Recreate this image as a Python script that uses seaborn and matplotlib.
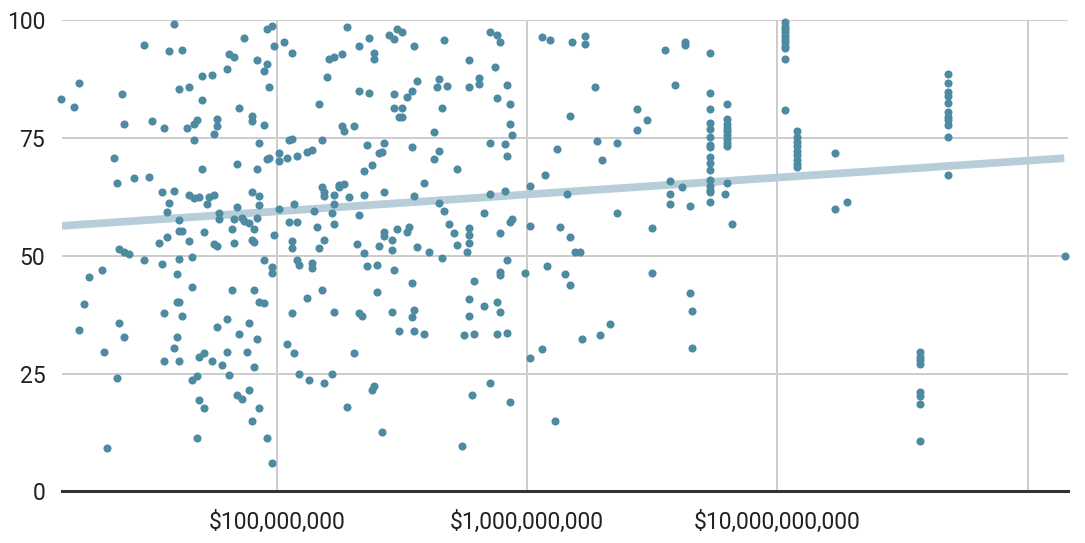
import numpy as np
import pandas as pd
import seaborn as sns
import matplotlib.pyplot as plt
from matplotlib.ticker import FixedLocator, NullLocator, FixedFormatter

# budget (log10 of dollars) and score
budget_log10 = [
    7.59, 7.47, 7.57, 7.62, 7.81, 7.83, 7.80, 7.70, 7.74, 7.21, 7.14, 7.19, 7.38, 7.61, 7.65, 7.70,
    7.39, 7.50, 7.55, 7.64, 7.68, 7.67, 7.76, 7.76, 7.75, 7.67, 7.35, 7.36, 7.43, 7.49, 7.70, 7.54,
    7.59, 7.57, 7.65, 7.67, 7.69, 7.73, 7.75, 7.72, 7.56, 7.61, 7.77, 7.77, 7.61, 7.62, 7.71, 7.56,
    7.53, 7.65, 7.75, 7.76, 7.37, 7.39, 7.41, 7.47, 7.54, 7.61, 7.66, 7.30, 7.25, 7.60, 7.66, 7.23,
    7.60, 7.61, 7.55, 7.62, 7.37, 7.21, 7.39, 7.60, 7.59, 7.31, 7.55, 7.61, 7.69, 7.71, 7.74, 7.80,
    7.78, 7.76, 7.80, 7.81, 7.36, 7.66, 7.68, 7.69, 7.71, 7.32, 7.68,
    7.84, 7.84, 7.83, 7.82, 7.83, 7.82, 7.84, 7.86, 7.89,
    7.98, 7.96, 7.87, 7.99, 8.03, 8.06, 7.92, 7.96, 7.95, 7.97, 7.85, 7.90, 7.90, 7.95, 8.28, 8.21,
    8.23, 8.26, 8.20, 8.33, 8.37, 8.39, 8.39, 8.45, 8.47, 8.48, 8.17, 8.33, 8.37, 8.47, 8.47, 8.49,
    8.26, 8.27, 8.31, 7.93, 8.05, 8.06, 8.18, 7.92, 7.96, 7.97, 8.01, 8.01, 8.04, 8.08, 8.12, 8.14,
    8.36, 8.41, 8.42, 8.43, 8.35, 8.38, 7.90, 7.93, 7.93, 8.18, 8.19, 8.19, 8.23, 8.25, 8.25, 8.27,
    8.29, 8.35, 8.43, 8.23, 8.07, 8.01, 8.15, 8.22, 8.33, 7.86, 7.87, 7.89, 7.92, 7.91, 8.05, 8.08,
    8.23, 8.16, 7.99, 7.90, 7.91, 8.06, 8.06, 8.19, 8.17, 8.32, 8.35, 8.41, 8.43, 8.43, 8.46, 8.46,
    8.48, 7.95, 7.98, 7.98, 8.08, 8.09, 8.14, 8.14, 8.36, 8.40, 8.47, 7.91, 7.93, 7.95, 8.18, 8.12,
    8.40, 8.06, 8.23, 8.33, 8.34, 8.46, 8.49, 7.89, 7.85, 7.92, 7.88, 7.91, 8.04, 8.07, 8.31, 8.09,
    8.13, 8.19, 8.22, 8.38, 8.39, 7.93, 7.90, 7.96, 7.98, 8.28, 8.42,
    8.50, 8.55, 8.67, 8.85, 8.88, 8.89, 8.77, 8.87, 8.56, 8.65, 8.64, 8.68, 8.77, 8.81, 8.81, 8.92,
    8.54, 8.52, 8.50, 8.50, 8.66, 8.88, 8.93, 8.93, 8.94, 8.63, 8.54, 8.65, 8.63, 8.85, 8.91, 8.92,
    8.72, 8.59, 8.55, 8.65, 8.67, 8.85, 8.91, 8.83, 9.01, 8.52, 8.53, 8.69, 8.71, 8.77, 8.77, 8.77,
    8.72, 8.76, 8.89, 8.93, 8.94, 9.01, 8.56, 8.61, 8.66, 8.92, 8.54, 8.79, 8.89, 8.89, 8.99, 8.77,
    8.83, 8.88, 8.89, 8.77, 8.55, 8.54, 8.55, 8.59, 8.75, 8.79, 8.88, 8.92, 9.01, 8.78, 8.85, 8.93,
    8.74,
    9.06, 9.09, 9.12, 9.07, 9.13, 9.08, 9.15, 9.06, 9.11,
    9.18, 9.23, 9.23, 9.27, 9.17, 9.28, 9.36, 9.30, 9.44, 9.48, 9.44, 9.55, 9.59, 9.63, 9.63, 9.73,
    9.16, 9.17, 9.19, 9.21, 9.36, 9.50, 9.57, 9.57, 9.57, 9.62, 9.65, 9.17, 9.50, 9.22, 9.29, 9.33,
    9.65, 9.66, 9.66, 9.79, 9.82, 10.23, 10.23, 10.28, 11.15,
]
score = [
    99.2, 94.7, 93.5, 93.6, 92.9, 92.2, 89.6, 88.1, 88.3, 86.7, 83.3, 81.6, 84.4, 85.4, 85.9, 83.0,
    77.9, 78.6, 77.1, 77.0, 78.9, 77.9, 79.1, 77.5, 75.8, 74.6, 70.8, 65.5, 66.6, 66.7, 68.5, 63.6,
    63.8, 61.1, 62.9, 62.2, 62.5, 62.4, 62.8, 61.0, 59.2, 57.5, 59.0, 57.9, 55.3, 55.3, 55.1, 53.9,
    52.7, 53.1, 52.4, 52.0, 51.5, 50.7, 50.3, 49.0, 48.3, 49.3, 49.8, 46.9, 45.4, 46.1, 43.3, 39.8,
    40.1, 40.1, 37.9, 37.3, 35.7, 34.3, 32.7, 32.8, 30.4, 29.5, 27.6, 27.6, 28.5, 29.4, 27.7, 29.6,
    26.9, 34.9, 36.5, 24.6, 24.0, 23.6, 24.5, 19.5, 17.7, 9.3, 11.3,
    69.4, 60.3, 57.8, 55.6, 52.6, 42.8, 20.5, 19.6, 21.6,
    98.7, 98.1, 96.3, 94.6, 95.3, 93.0, 91.6, 90.7, 89.3, 85.9, 81.3, 79.6, 78.5, 77.7, 98.6, 91.7,
    92.1, 92.7, 87.9, 94.6, 96.1, 93.1, 91.7, 96.8, 96.0, 98.2, 82.2, 85.0, 84.6, 84.3, 81.4, 79.5,
    77.6, 76.5, 77.6, 74.0, 74.6, 74.7, 74.6, 68.4, 70.5, 70.8, 71.9, 70.2, 70.7, 71.1, 72.0, 72.5,
    73.4, 71.7, 72.0, 74.0, 68.0, 69.2, 63.5, 62.7, 60.8, 64.6, 63.6, 62.7, 62.9, 64.5, 65.0, 65.3,
    62.5, 62.8, 63.5, 61.0, 60.9, 59.9, 59.5, 59.0, 58.7, 58.0, 57.3, 56.9, 58.0, 55.6, 57.2, 57.1,
    56.8, 56.2, 54.4, 53.4, 52.9, 53.1, 51.7, 53.4, 51.6, 52.5, 50.5, 52.1, 54.1, 55.1, 53.4, 51.2,
    55.6, 49.1, 47.6, 46.4, 49.1, 48.1, 48.4, 47.4, 47.9, 48.0, 47.0, 42.8, 40.1, 39.9, 42.8, 41.1,
    42.4, 37.9, 38.0, 37.8, 37.2, 38.0, 34.0, 35.8, 33.4, 32.3, 29.5, 26.4, 31.2, 29.3, 29.3, 24.9,
    23.7, 23.0, 25.0, 21.6, 22.3, 17.7, 15.0, 11.4, 6.1, 17.9, 12.6,
    97.5, 94.5, 95.7, 97.4, 96.8, 95.3, 91.5, 90.1, 87.1, 87.5, 85.8, 86.0, 85.8, 87.8, 86.4, 86.2,
    85.0, 83.7, 81.4, 79.4, 81.4, 83.4, 82.2, 78.0, 75.6, 76.2, 73.0, 72.2, 70.5, 73.9, 73.8, 71.2,
    68.4, 65.5, 62.6, 61.1, 59.4, 63.0, 63.7, 59.1, 64.8, 55.0, 56.0, 56.8, 54.8, 55.9, 54.4, 52.6,
    52.3, 50.7, 54.9, 57.2, 57.7, 56.4, 51.8, 50.9, 49.6, 49.1, 44.2, 44.6, 46.6, 46.0, 46.3, 40.9,
    39.3, 40.1, 38.0, 37.3, 38.5, 37.1, 34.0, 33.4, 33.1, 33.5, 33.4, 33.6, 28.3, 20.5, 23.1, 18.9,
    9.7,
    96.4, 95.8, 72.6, 67.2, 56.1, 47.8, 46.1, 30.2, 15.0,
    95.3, 96.7, 95.0, 85.9, 79.6, 74.4, 74.0, 70.3, 81.1, 78.7, 76.6, 93.6, 86.3, 95.4, 94.7, 93.1,
    63.0, 53.9, 50.8, 50.8, 59.1, 55.8, 65.8, 63.1, 61.0, 64.6, 60.6, 43.7, 46.4, 32.4, 33.1, 35.5,
    42.0, 38.2, 30.5, 63.0, 56.8, 71.9, 59.9, 61.4, 50.0,
]

# vertical stacks of repeated budgets
stack_budgets = [9.73, 9.80, 10.03, 10.08, 10.68, 10.57]
stack_scores = [
    [84.5, 81.2, 78.1, 76.9, 75.1, 73.5, 73.1, 71.0, 69.7, 68.3, 66.1, 64.9, 64.0, 63.5, 61.4],
    [82.1, 79.0, 78.0, 77.2, 76.4, 75.6, 74.8, 74.0, 73.2, 65.5],
    [99.5, 98.8, 98.1, 97.4, 96.7, 96.0, 95.3, 94.6, 94.0, 91.8, 80.9],
    [76.5, 75.3, 74.2, 73.2, 72.3, 71.4, 70.4, 69.5, 68.9],
    [88.6, 86.6, 84.8, 83.8, 82.5, 80.5, 79.5, 78.7, 77.7, 75.3, 67.1],
    [29.6, 28.6, 27.8, 27.0, 21.0, 20.2, 18.6, 10.6],
]

# trend line as shown in the chart (ends)
trend_budget_log10 = [7.13, 11.146]
trend_score = [56.3, 70.7]

tick_values = [1e8, 1e9, 1e10, 1e11]
tick_labels = ['$100,000,000', '$1,000,000,000', '$10,000,000,000', '']

logs = list(budget_log10)
ys = list(score)
for b, s in zip(stack_budgets, stack_scores):
    logs += [b] * len(s)
    ys += s
df = pd.DataFrame({'budget': 10 ** np.array(logs), 'score': ys})
trend = pd.DataFrame({'budget': 10 ** np.array(trend_budget_log10), 'score': trend_score})

sns.set_style('white')
plt.rcParams['font.family'] = ['Roboto', 'DejaVu Sans']

fig = plt.figure(figsize=(10.85, 5.43), dpi=100)
ax = fig.add_axes([0.0571, 0.095, 0.927, 0.868])

sns.lineplot(data=trend, x='budget', y='score', color='#b7ced9', linewidth=5.6,
             solid_capstyle='butt', zorder=2, ax=ax)
sns.scatterplot(data=df, x='budget', y='score', color='#4f8aa3', s=34, linewidth=0,
                ax=ax, zorder=3, clip_on=False)

ax.set_xscale('log')
ax.set_xlim(10 ** 7.142, 10 ** 11.16)
ax.set_ylim(0, 100)
ax.xaxis.set_major_locator(FixedLocator(tick_values))
ax.xaxis.set_major_formatter(FixedFormatter(tick_labels))
ax.xaxis.set_minor_locator(NullLocator())
ax.set_yticks([0, 25, 50, 75, 100])
ax.grid(True, color='#cccccc', linewidth=1.4, zorder=0)
ax.set_axisbelow(True)
ax.tick_params(axis='both', length=0, labelsize=16.5, labelcolor='#222222')
ax.tick_params(axis='x', pad=14)
ax.tick_params(axis='y', pad=12)
ax.set_xlabel('')
ax.set_ylabel('')
for side in ['top', 'left', 'right']:
    ax.spines[side].set_visible(False)
ax.spines['bottom'].set_color('#333333')
ax.spines['bottom'].set_linewidth(2.2)

plt.savefig('out.png', dpi=100)
